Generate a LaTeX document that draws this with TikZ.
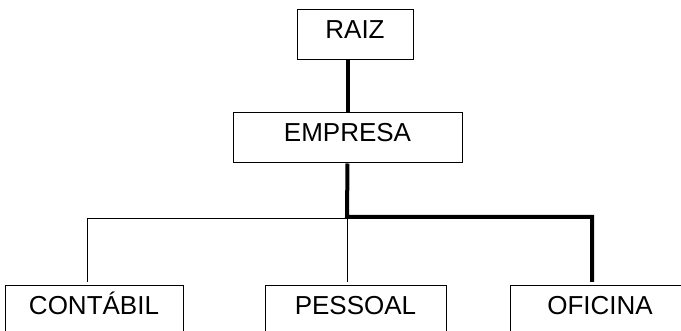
\documentclass[tikz,border=0pt]{standalone}
\usepackage{fontspec}
\setmainfont{Liberation Sans}
\usetikzlibrary{positioning}

\begin{document}
\begin{tikzpicture}[x=1pt, y=-1pt,
    box/.style={draw, line width=1pt, inner sep=0pt, text height=29pt, text depth=21pt,
                font=\fontsize{26}{30}\selectfont},
    thinline/.style={line width=1pt},
    thickline/.style={line width=4pt}]
\useasboundingbox (0,0) rectangle (681,331);
\clip (0,0) rectangle (681,331);
\fill[white] (0,0) rectangle (681,331);
% boxes
\node [box, minimum width=116pt] (raiz) at (355,35) {RAIZ};
\node [box, minimum width=229pt] (empresa) at (347.5,138) {EMPRESA};
\node [box, minimum width=178pt] (contabil) at (94,311) {CONTÁBIL};
\node [box, minimum width=181pt] (pessoal) at (355.5,311) {PESSOAL};
\node [box, minimum width=180pt] (oficina) at (600,311) {OFICINA};
% joints
\coordinate (fork) at (347,219);
\coordinate (c1) at (87,282);
\coordinate (c2) at (347,282);
\coordinate (c3) at (592,282);
% lines
\draw [thickline] (empresa.north |- raiz.south) -- (empresa.north);
\draw [thinline] (c1) |- (fork) -- (c2);
\draw [thickline] (empresa.south) -- ([yshift=2pt]fork) -| (c3);
\end{tikzpicture}
\end{document}
